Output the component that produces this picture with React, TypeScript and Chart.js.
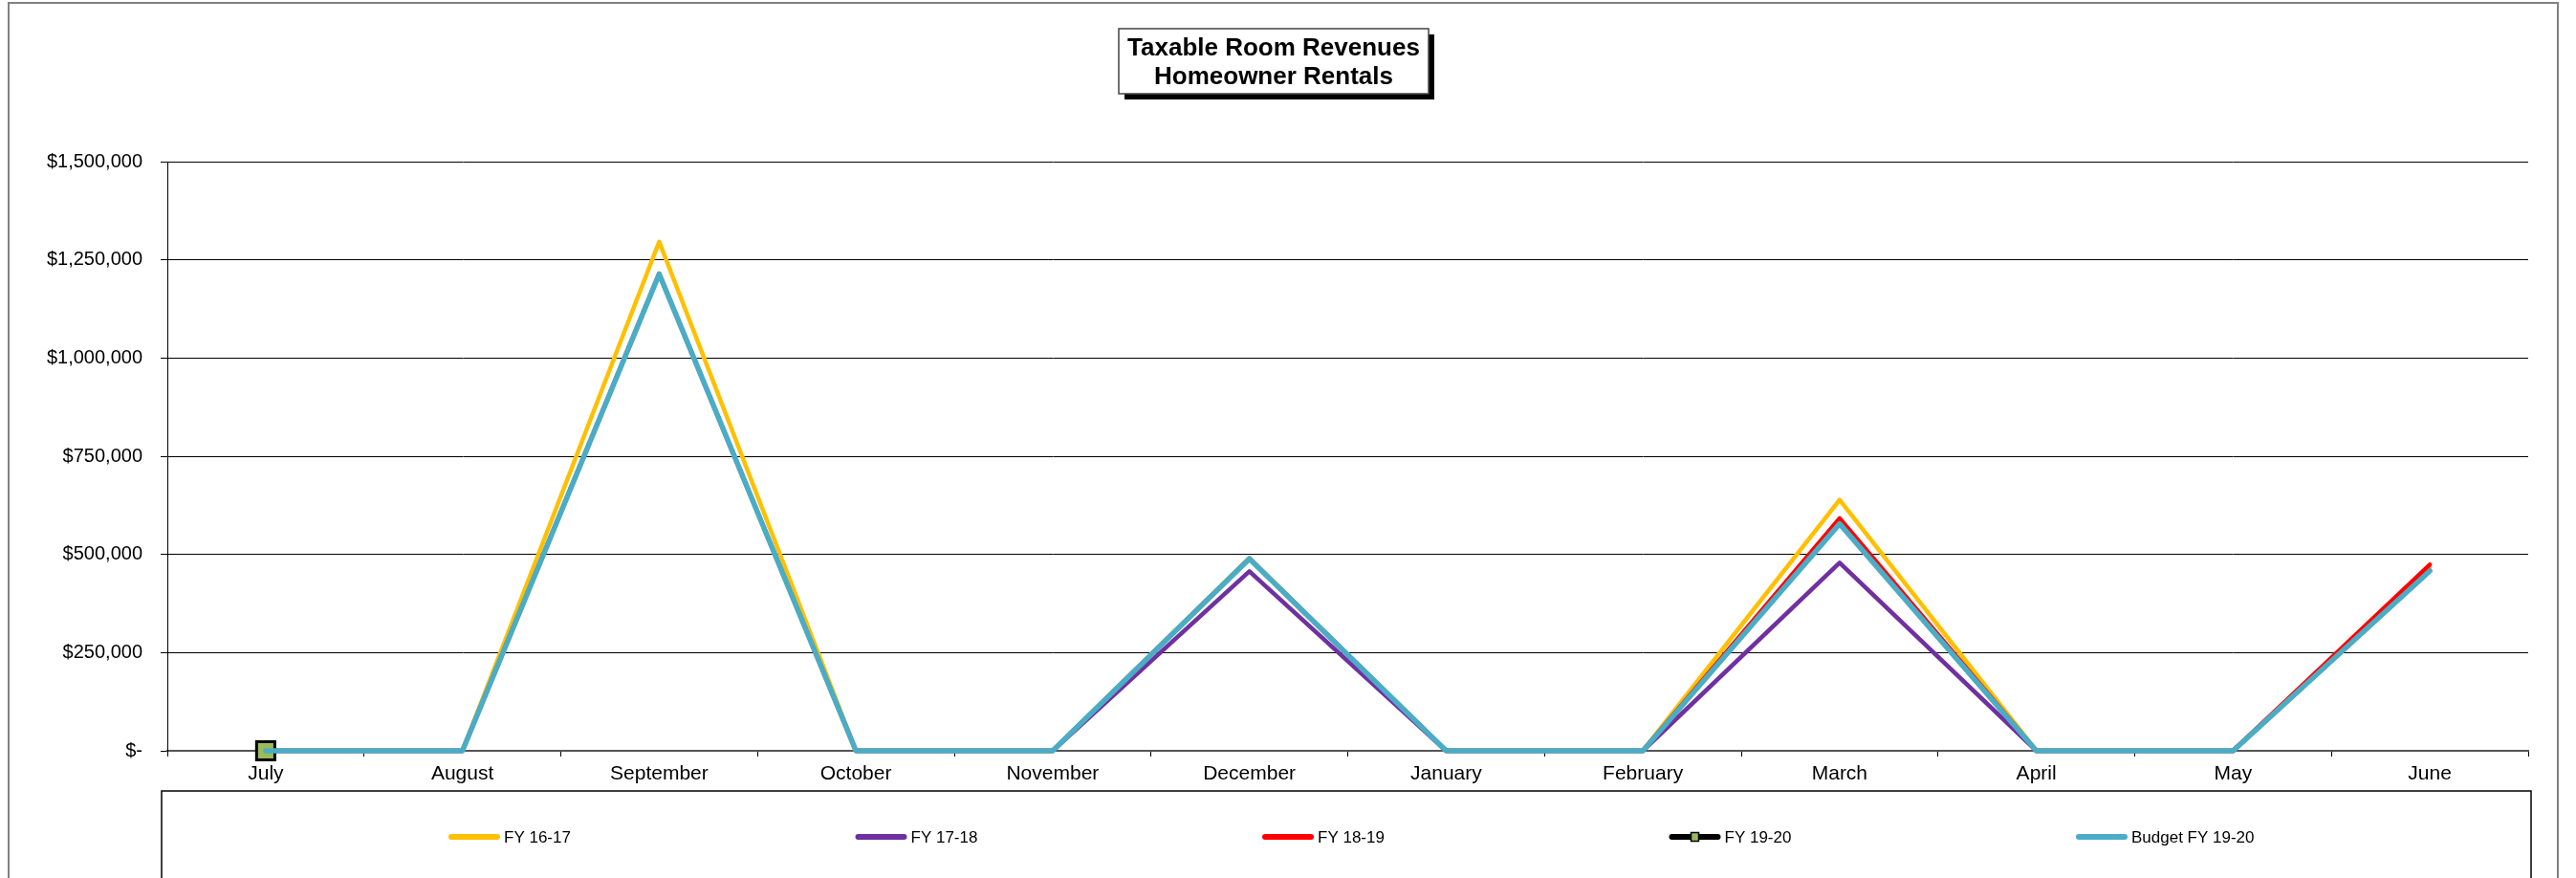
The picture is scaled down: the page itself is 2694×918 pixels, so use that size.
import React, { useEffect, useRef } from "react";
import { Chart, registerables } from "chart.js";

Chart.register(...registerables);

const months = ["July", "August", "September", "October", "November", "December", "January", "February", "March", "April", "May", "June"];
const fy1617 = [0, 0, 1296000, 0, 0, 491000, 0, 0, 639000, 0, 0, 466000];
const fy1718 = [0, 0, 1214000, 0, 0, 457000, 0, 0, 479000, 0, 0, 458000];
const fy1819 = [0, 0, 1214000, 0, 0, 489000, 0, 0, 592000, 0, 0, 474000];
const fy1920 = [0, null, null, null, null, null, null, null, null, null, null, null];
const budget1920 = [0, 0, 1214000, 0, 0, 489000, 0, 0, 578000, 0, 0, 458000];
const seriesNames = ["FY 16-17", "FY 17-18", "FY 18-19", "FY 19-20", "Budget FY 19-20"];
const seriesColors = ["#FFC000", "#7030A0", "#FF0000", "#000000", "#4BACC6"];
const titleLines = ["Taxable Room Revenues", "Homeowner Rentals"];

const FONT = "'Liberation Sans', Arial, sans-serif";
const W = 2694;
const H = 918;

const decorPlugin = {
  id: "decor",
  beforeDraw(chart: any) {
    const ctx = chart.ctx;
    ctx.save();
    ctx.fillStyle = "#fff";
    ctx.fillRect(0, 0, W, H);
    ctx.strokeStyle = "#808080";
    ctx.lineWidth = 2;
    ctx.strokeRect(9, 3, 2666, 1000);
    ctx.restore();
  },
  afterDraw(chart: any) {
    const ctx = chart.ctx;
    ctx.save();
    const bx = 1170, by = 30, bw = 324, bh = 68;
    ctx.fillStyle = "#000";
    ctx.fillRect(bx + 6, by + 6, bw, bh);
    ctx.fillStyle = "#fff";
    ctx.fillRect(bx, by, bw, bh);
    ctx.strokeStyle = "#444";
    ctx.lineWidth = 1.5;
    ctx.strokeRect(bx, by, bw, bh);
    ctx.fillStyle = "#000";
    ctx.font = `bold 26px ${FONT}`;
    ctx.textAlign = "center";
    ctx.textBaseline = "middle";
    ctx.fillText(titleLines[0], bx + bw / 2, 51);
    ctx.fillText(titleLines[1], bx + bw / 2, 81);

    ctx.strokeStyle = "#000";
    ctx.lineWidth = 1.5;
    ctx.strokeRect(169, 827, 2647 - 169, 200);

    const ly = 875;
    ctx.font = `17px ${FONT}`;
    ctx.textAlign = "left";
    ctx.textBaseline = "middle";
    chart.data.datasets.forEach((ds: any, i: number) => {
      const x0 = 469 + i * 425.5;
      ctx.strokeStyle = ds.borderColor;
      ctx.lineWidth = 6;
      ctx.lineCap = "round";
      ctx.beginPath();
      ctx.moveTo(x0 + 3, ly);
      ctx.lineTo(x0 + 51, ly);
      ctx.stroke();
      if (ds.pointRadius && ds.pointRadius > 0) {
        ctx.fillStyle = ds.pointBackgroundColor;
        ctx.fillRect(x0 + 23, ly - 4.5, 8, 9);
        ctx.strokeStyle = "#000";
        ctx.lineWidth = 1.5;
        ctx.strokeRect(x0 + 23, ly - 4.5, 8, 9);
      }
      ctx.fillStyle = "#000";
      ctx.fillText(ds.label, x0 + 58, ly + 1);
    });
    ctx.restore();
  },
};

export default function App() {
  const ref = useRef<HTMLCanvasElement>(null);
  useEffect(() => {
    if (!ref.current) return;
    const seriesData = [fy1617, fy1718, fy1819, fy1920, budget1920];
    const orders = [5, 4, 3, 2, 1];
    const datasets = seriesData.map((d, i) => ({
      label: seriesNames[i],
      data: d,
      borderColor: seriesColors[i],
      backgroundColor: seriesColors[i],
      borderWidth: i === 4 ? 5.5 : 4.5,
      borderJoinStyle: "round" as const,
      borderCapStyle: "round" as const,
      tension: 0,
      order: orders[i],
      clip: false as any,
      pointRadius: i === 3 ? 13.5 : 0,
      pointHoverRadius: i === 3 ? 13.5 : 0,
      pointStyle: "rect" as const,
      pointBackgroundColor: i === 3 ? "#9BBB59" : seriesColors[i],
      pointBorderColor: "#000",
      pointBorderWidth: 3,
      spanGaps: false,
    }));
    const chart = new Chart(ref.current, {
      type: "line",
      data: { labels: months, datasets },
      options: {
        responsive: false,
        animation: false,
        devicePixelRatio: 1,
        layout: { padding: { left: 0, right: 50, top: 169, bottom: 0 } },
        plugins: {
          legend: { display: false },
          title: { display: false },
          tooltip: { enabled: false },
        },
        scales: {
          x: {
            offset: true,
            afterFit: (s: any) => {
              s.height = 133;
            },
            grid: {
              display: true,
              offset: true,
              drawOnChartArea: false,
              drawTicks: true,
              tickLength: 6,
              color: "#000",
              lineWidth: 1,
            },
            border: { display: true, color: "#555", width: 2 },
            ticks: {
              color: "#000",
              font: { family: FONT, size: 21 },
              padding: 6,
              maxRotation: 0,
              autoSkip: false,
            },
          },
          y: {
            min: 0,
            max: 1500000,
            afterFit: (s: any) => {
              s.width = 175;
            },
            grid: {
              color: "#000",
              lineWidth: 1,
              drawTicks: true,
              tickLength: 7,
            },
            border: { display: true, color: "#000", width: 1 },
            ticks: {
              stepSize: 250000,
              color: "#000",
              font: { family: FONT, size: 20 },
              padding: 19,
              callback: (v: any) => (Number(v) === 0 ? "$-" : "$" + Number(v).toLocaleString("en-US")),
            },
          },
        },
      },
      plugins: [decorPlugin],
    });
    return () => chart.destroy();
  }, []);
  return (
    <div style={{ position: "absolute", left: 0, top: 0, width: W, height: H, overflow: "hidden", background: "#fff" }}>
      <canvas ref={ref} width={W} height={H} style={{ display: "block", width: W, height: H }} />
    </div>
  );
}
